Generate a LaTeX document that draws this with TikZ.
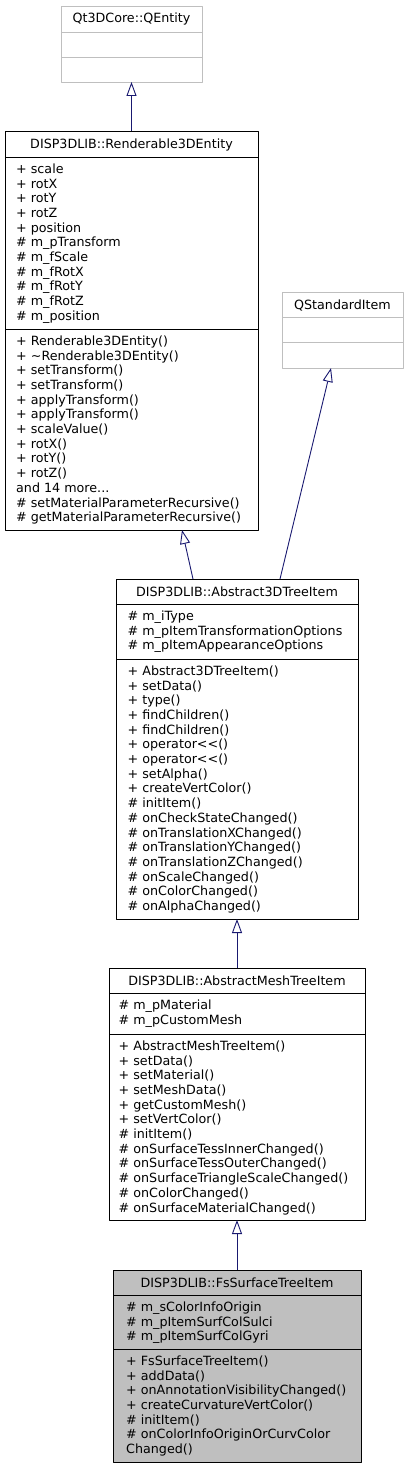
\documentclass[tikz,border=0pt]{standalone}
\usepackage{fontspec}
\setmainfont{DejaVu Sans}
\usetikzlibrary{arrows.meta}
\definecolor{edgeblue}{HTML}{191970}
\definecolor{extgray}{HTML}{BFBFBF}
\begin{document}
\begin{tikzpicture}[x=1pt, y=-1pt, font=\fontsize{12.7}{14.7}\selectfont, line join=round,
  cls/.style={draw, line width=0.9pt, outer sep=0pt, inner sep=0pt},
  ext/.style={cls, draw=extgray},
  ttl/.style={anchor=base, inner sep=0pt},
  mem/.style={anchor=north west, yshift=10pt, align=left, inner sep=0pt, execute at begin node=\rule{0pt}{10pt}},
  inh/.style={edgeblue, line width=0.9pt, -{Triangle[open, length=14pt, width=10pt]}}]
\useasboundingbox (0,0) rectangle (408,1469);
% class boxes
\node[ext, minimum width=141, minimum height=76] (qent) at (131.5,44) {};
\node[ext, minimum width=121, minimum height=76] (qsi) at (342.5,330) {};
\node[cls, minimum width=253, minimum height=399] (rend) at (131.5,330.5) {};
\node[cls, minimum width=242, minimum height=340] (a3d) at (237,749) {};
\node[cls, minimum width=256, minimum height=252] (mesh) at (237,1094) {};
\node[cls, fill=extgray, minimum width=248, minimum height=192] (fs) at (237,1366) {};
\foreach \n/\a/\b/\c in {qent/32/57/extgray, qsi/317/342/extgray, rend/157/329/black,
  a3d/604/659/black, mesh/993/1034/black, fs/1295/1349/black}
  \draw[\c, line width=0.9pt] (\n.west |- 0,\a) -- (\n.east |- 0,\a) (\n.west |- 0,\b) -- (\n.east |- 0,\b);
% titles
\path
(131.5,23) node[ttl] (qentT) {Qt3DCore::QEntity}
(342.5,309) node[ttl] (qsiT) {QStandardItem}
(131.5,148) node[ttl] (rendT) {DISP3DLIB::Renderable3DEntity}
(237,596) node[ttl] (a3dT) {DISP3DLIB::Abstract3DTreeItem}
(237,985) node[ttl] (meshT) {DISP3DLIB::AbstractMeshTreeItem}
(237,1287) node[ttl] (fsT) {DISP3DLIB::FsSurfaceTreeItem};
% members (first baseline given)
\node[mem] (rendA) at (16,173.5) {+ scale\\+ rotX\\+ rotY\\+ rotZ\\+ position\\\# m\_pTransform\\\# m\_fScale\\\# m\_fRotX\\\# m\_fRotY\\\# m\_fRotZ\\\# m\_position};
\node[mem] (rendM) at (16,345.5) {+ Renderable3DEntity()\\+ \textasciitilde Renderable3DEntity()\\+ setTransform()\\+ setTransform()\\+ applyTransform()\\+ applyTransform()\\+ scaleValue()\\+ rotX()\\+ rotY()\\+ rotZ()\\and 14 more...\\\# setMaterialParameterRecursive()\\\# getMaterialParameterRecursive()};
\node[mem] (a3dA) at (127.5,620.5) {\# m\_iType\\\# m\_pItemTransformationOptions\\\# m\_pItemAppearanceOptions};
\node[mem] (a3dM) at (127.5,675.5) {+ Abstract3DTreeItem()\\+ setData()\\+ type()\\+ findChildren()\\+ findChildren()\\+ operator<{}<()\\+ operator<{}<()\\+ setAlpha()\\+ createVertColor()\\\# initItem()\\\# onCheckStateChanged()\\\# onTranslationXChanged()\\\# onTranslationYChanged()\\\# onTranslationZChanged()\\\# onScaleChanged()\\\# onColorChanged()\\\# onAlphaChanged()};
\node[mem] (meshA) at (118.5,1009.5) {\# m\_pMaterial\\\# m\_pCustomMesh};
\node[mem] (meshM) at (118.5,1050.5) {+ AbstractMeshTreeItem()\\+ setData()\\+ setMaterial()\\+ setMeshData()\\+ getCustomMesh()\\+ setVertColor()\\\# initItem()\\\# onSurfaceTessInnerChanged()\\\# onSurfaceTessOuterChanged()\\\# onSurfaceTriangleScaleChanged()\\\# onColorChanged()\\\# onSurfaceMaterialChanged()};
\node[mem] (fsA) at (126,1311.5) {\# m\_sColorInfoOrigin\\\# m\_pItemSurfColSulci\\\# m\_pItemSurfColGyri};
\node[mem] (fsM) at (126,1365.5) {+ FsSurfaceTreeItem()\\+ addData()\\+ onAnnotationVisibilityChanged()\\+ createCurvatureVertColor()\\\# initItem()\\\# onColorInfoOriginOrCurvColor\\Changed()};
% inheritance
\draw[inh] (rend.north) -- (qent.south);
\draw[inh] ([xshift=77pt]a3d.north west) -- ([xshift=177pt]rend.south west);
\draw[inh] ([xshift=164pt]a3d.north west) -- ([xshift=49pt]qsi.south west);
\draw[inh] (mesh.north) -- (a3d.south);
\draw[inh] (fs.north) -- (mesh.south);
\end{tikzpicture}
\end{document}
